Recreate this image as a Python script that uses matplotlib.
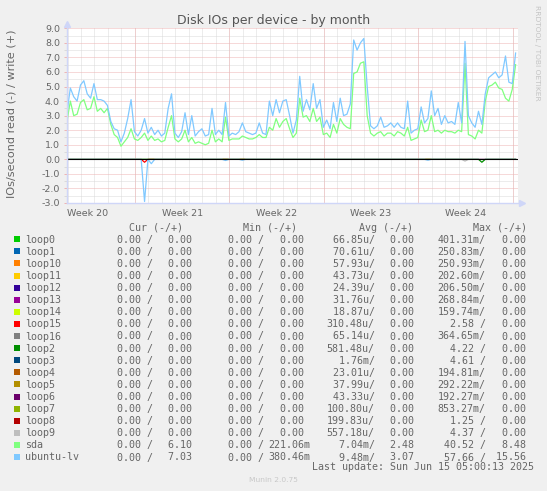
import numpy as np
import matplotlib
matplotlib.use('Agg')
import matplotlib.pyplot as plt
from matplotlib.patches import Rectangle

# samples every 6 hours, day 0 = Sunday May 18 00:00
t_start = -5.04
step = 0.25

lv_write = [3.2, 4.9, 4.3, 4.0, 5.1, 5.4, 4.5, 4.2, 5.2, 4.1,
            4.1, 4.0, 3.7, 2.6, 2.1, 2.0, 1.2, 1.8, 2.8, 4.1,
            1.9, 1.6, 2.0, 2.8, 1.8, 2.2, 1.7, 2.0, 1.6, 1.8,
            3.5, 4.5, 1.8, 1.5, 1.9, 3.2, 1.7, 3.0, 1.6, 1.9,
            2.1, 1.6, 1.7, 3.5, 1.7, 2.0, 1.7, 3.9, 1.6, 1.8,
            1.7, 1.9, 2.5, 1.9, 1.8, 1.7, 1.8, 2.5, 1.8, 1.7,
            4.0, 3.0, 4.1, 3.2, 4.0, 4.1, 3.0, 1.8, 2.7, 5.7,
            3.3, 4.1, 3.4, 5.2, 3.5, 4.1, 2.2, 2.7, 2.1, 3.9,
            2.6, 4.2, 3.0, 3.1, 3.8, 8.2, 7.5, 8.0, 8.3, 5.0,
            2.3, 2.1, 2.3, 2.9, 2.2, 2.3, 2.5, 2.2, 2.5, 2.2,
            2.1, 4.0, 1.8, 2.0, 2.1, 3.6, 2.5, 2.8, 4.7, 3.0,
            3.5, 2.4, 3.0, 2.5, 2.6, 2.4, 3.9, 2.5, 8.1, 3.0,
            2.5, 2.2, 3.3, 2.4, 4.5, 5.6, 5.8, 6.0, 5.6, 5.8,
            7.1, 5.3, 5.2, 7.3]

sda_write = [2.6, 4.0, 3.0, 3.1, 3.9, 4.1, 3.4, 3.5, 4.3, 3.3,
             3.5, 3.2, 3.5, 2.4, 1.7, 1.5, 0.9, 1.2, 1.5, 2.1,
             1.4, 1.3, 1.5, 1.8, 1.3, 1.6, 1.3, 1.4, 1.2, 1.3,
             2.2, 3.0, 1.4, 1.2, 1.4, 2.0, 1.2, 1.5, 1.1, 1.2,
             1.1, 1.0, 1.1, 2.0, 1.2, 1.4, 1.2, 2.9, 1.3, 1.4,
             1.4, 1.4, 1.6, 1.5, 1.4, 1.4, 1.5, 1.7, 1.5, 1.5,
             2.2, 2.0, 2.8, 2.2, 2.6, 2.8, 2.1, 1.5, 1.8, 4.2,
             2.9, 3.0, 2.6, 3.5, 2.6, 2.9, 1.7, 1.8, 1.5, 2.4,
             1.8, 2.8, 2.4, 2.2, 2.1, 5.9, 6.0, 6.6, 6.7, 3.0,
             1.8, 1.6, 1.8, 1.9, 1.6, 1.8, 1.8, 1.6, 1.9, 1.8,
             1.6, 2.2, 1.3, 1.4, 1.5, 2.7, 1.9, 2.0, 3.0, 1.9,
             2.0, 1.8, 2.0, 1.9, 1.9, 1.8, 2.0, 1.9, 6.6, 1.7,
             1.6, 1.4, 2.0, 1.8, 4.0, 5.0, 5.1, 5.3, 4.9, 4.8,
             4.2, 4.0, 4.8, 6.5]

# reads are drawn negative, only a few samples are non zero
lv_read_idx = [23, 25, 47, 52, 107]
lv_read_val = [2.9, 0.3, 0.08, 0.06, 0.06]
loop15_read_idx = [23]
loop15_read_val = [0.2]
loop2_read_idx = [123]
loop2_read_val = [0.2]
loop9_read_idx = [118]
loop9_read_val = [0.12]

week_starts = [0, 7, 14, 21, 28]
week_labels = ['Week 20', 'Week 21', 'Week 22', 'Week 23', 'Week 24']

names = ['loop0', 'loop1', 'loop10', 'loop11', 'loop12', 'loop13', 'loop14',
         'loop15', 'loop16', 'loop2', 'loop3', 'loop4', 'loop5', 'loop6',
         'loop7', 'loop8', 'loop9', 'sda', 'ubuntu-lv']
colors = ['#00CC00', '#0066B3', '#FF8000', '#FFCC00', '#330099', '#990099',
          '#CCFF00', '#FF0000', '#808080', '#008F00', '#00487D', '#B35A00',
          '#B38F00', '#6B006B', '#8FB300', '#B30000', '#BEBEBE', '#80FF80',
          '#80C9FF']
cur_read = ['0.00', '0.00', '0.00', '0.00', '0.00', '0.00', '0.00', '0.00', '0.00', '0.00',
            '0.00', '0.00', '0.00', '0.00', '0.00', '0.00', '0.00', '0.00', '0.00']
cur_write = ['0.00', '0.00', '0.00', '0.00', '0.00', '0.00', '0.00', '0.00', '0.00', '0.00',
             '0.00', '0.00', '0.00', '0.00', '0.00', '0.00', '0.00', '6.10', '7.03']
min_read = ['0.00', '0.00', '0.00', '0.00', '0.00', '0.00', '0.00', '0.00', '0.00', '0.00',
            '0.00', '0.00', '0.00', '0.00', '0.00', '0.00', '0.00', '0.00', '0.00']
min_write = ['0.00', '0.00', '0.00', '0.00', '0.00', '0.00', '0.00', '0.00', '0.00', '0.00',
             '0.00', '0.00', '0.00', '0.00', '0.00', '0.00', '0.00', '221.06m', '380.46m']
avg_read = ['66.85u', '70.61u', '57.93u', '43.73u', '24.39u', '31.76u', '18.87u',
            '310.48u', '65.14u', '581.48u', '1.76m', '23.01u', '37.99u', '43.33u',
            '100.80u', '199.83u', '557.18u', '7.04m', '9.48m']
avg_write = ['0.00', '0.00', '0.00', '0.00', '0.00', '0.00', '0.00', '0.00', '0.00', '0.00',
             '0.00', '0.00', '0.00', '0.00', '0.00', '0.00', '0.00', '2.48', '3.07']
max_read = ['401.31m', '250.83m', '250.93m', '202.60m', '206.50m', '268.84m', '159.74m',
            '2.58', '364.65m', '4.22', '4.61', '194.81m', '292.22m', '192.27m',
            '853.27m', '1.25', '4.37', '40.52', '57.66']
max_write = ['0.00', '0.00', '0.00', '0.00', '0.00', '0.00', '0.00', '0.00', '0.00', '0.00',
             '0.00', '0.00', '0.00', '0.00', '0.00', '0.00', '0.00', '8.48', '15.56']

W, H = 547, 491
FONT = '#666666'
GRID = '#DADADA'
MGRID = '#EEB4B4'
AXIS = '#CFD6F8'
DOTS = (0, (1, 1))
MONO = 'DejaVu Sans Mono'


def fx(px):
    return px / W


def fy(py):
    return 1 - py / H


def read_series(idx, val, n):
    r = np.zeros(n)
    r[idx] = val
    return -r


fig = plt.figure(figsize=(W / 100, H / 100), dpi=100, facecolor='#F0F0F0')
ax = fig.add_axes([fx(66.7), fy(203), fx(517.5) - fx(66.7), fy(28.3) - fy(203)])
ax.set_facecolor('white')

n = len(lv_write)
t = t_start + np.arange(n) * step

ax.plot(t, sda_write, color='#80FF80', lw=0.9, zorder=3)
ax.plot(t, lv_write, color='#80C9FF', lw=0.9, zorder=4)
ax.plot(t, read_series(loop15_read_idx, loop15_read_val, n), color='#FF0000', lw=0.9, zorder=2)
ax.plot(t, read_series(loop9_read_idx, loop9_read_val, n), color='#BEBEBE', lw=0.9, zorder=2)
ax.plot(t, read_series(loop2_read_idx, loop2_read_val, n), color='#008F00', lw=0.9, zorder=2)
ax.plot(t, read_series(lv_read_idx, lv_read_val, n), color='#80C9FF', lw=0.9, zorder=2.1)
ax.axhline(0, color='black', lw=0.8, zorder=2.5)

ax.set_xlim(-5.06, 28.35)
ax.set_ylim(-3, 9)

# y axis: red dotted every 1.0, grey every 0.5
yt = np.arange(-3, 10)
ax.set_yticks(yt, [f'{v:.1f}' for v in yt])
ax.set_yticks(np.arange(-2.5, 9, 1.0), minor=True)
ax.tick_params(axis='y', which='major', length=2, width=0.7, color=MGRID,
               pad=2.9, labelsize=6.8, labelcolor=FONT)
ax.tick_params(axis='y', which='minor', length=2, width=0.7, color=GRID)
ax.grid(True, axis='y', which='major', color=MGRID, lw=0.72, ls=DOTS)
ax.grid(True, axis='y', which='minor', color=GRID, lw=0.72, ls=DOTS)

# x axis: grey dotted each day, red dotted each week, label mid week
ax.set_xticks([w - 3.5 for w in week_starts], week_labels)
ax.set_xticks(np.arange(-5, 29), minor=True)
ax.tick_params(axis='x', which='both', length=0, pad=4, labelsize=6.8, labelcolor=FONT)
ax.grid(True, axis='x', which='minor', color=GRID, lw=0.72, ls=DOTS)
ax.vlines(week_starts, -3, 9, colors=MGRID, lw=0.72, linestyles=DOTS, zorder=0.9)
ax.set_axisbelow(True)

for s in ax.spines.values():
    s.set_visible(False)
ax.plot([0, 0], [0, 1.02], color=AXIS, lw=1, transform=ax.transAxes, clip_on=False, zorder=5)
ax.plot([0, 1.009], [0, 0], color=AXIS, lw=1, transform=ax.transAxes, clip_on=False, zorder=5)
ax.plot([0], [1.025], marker='^', ms=5, color=AXIS, transform=ax.transAxes, clip_on=False)
ax.plot([1.011], [0], marker='>', ms=5, color=AXIS, transform=ax.transAxes, clip_on=False)

fig.text(fx(273.3), fy(24), 'Disk IOs per device - by month', ha='center',
         va='baseline', fontsize=9, color='#555555')
fig.text(fx(11.7), fy(114), 'IOs/second read (-) / write (+)', rotation=90,
         ha='center', va='center', fontsize=8.1, color=FONT)
fig.text(fx(537), fy(53), 'RRDTOOL / TOBI OETIKER', rotation=270, ha='center',
         va='center', fontsize=5.4, color='#C4C4C4')

# legend table
headers = ['Cur (-/+)', 'Min (-/+)', 'Avg (-/+)', 'Max (-/+)']
head_x = [129.3, 243.3, 359.4, 472.8]
neg_x = [104.7, 216.3, 326.8, 437.6]
pos_x = [156.3, 268.0, 378.4, 489.6]
for h, x in zip(headers, head_x):
    fig.text(fx(x), fy(231), h, family=MONO, fontsize=7.2, color=FONT, va='baseline')


def split_unit(s):
    if s[-1].isalpha():
        return s[:-1], s[-1]
    return s, ' '


columns = [(cur_read, cur_write), (min_read, min_write),
           (avg_read, avg_write), (max_read, max_write)]
for k, name in enumerate(names):
    yb = 242.7 + 12.1 * k
    fig.patches.append(Rectangle((fx(14), fy(yb - 0.5)), 6 / W, 6 / H,
                                 transform=fig.transFigure, color=colors[k], lw=0))
    fig.text(fx(25.5), fy(yb), name, family=MONO, fontsize=7.2, color=FONT, va='baseline')
    for (rd, wr), xn, xp in zip(columns, neg_x, pos_x):
        num, u = split_unit(rd[k])
        fig.text(fx(xn), fy(yb), f'{num:>6}{u}/', family=MONO, fontsize=7.2,
                 color=FONT, va='baseline')
        num, u = split_unit(wr[k])
        fig.text(fx(xp), fy(yb), f'{num:>6}{u}', family=MONO, fontsize=7.2,
                 color=FONT, va='baseline')

fig.text(fx(311.5), fy(470), 'Last update: Sun Jun 15 05:00:13 2025', family=MONO,
         fontsize=7.2, color=FONT, va='baseline')
fig.text(fx(273), fy(482), 'Munin 2.0.75', ha='center', va='baseline',
         fontsize=5.4, color='#C8C8C8')

fig.savefig('out.png', dpi=100, facecolor=fig.get_facecolor())
